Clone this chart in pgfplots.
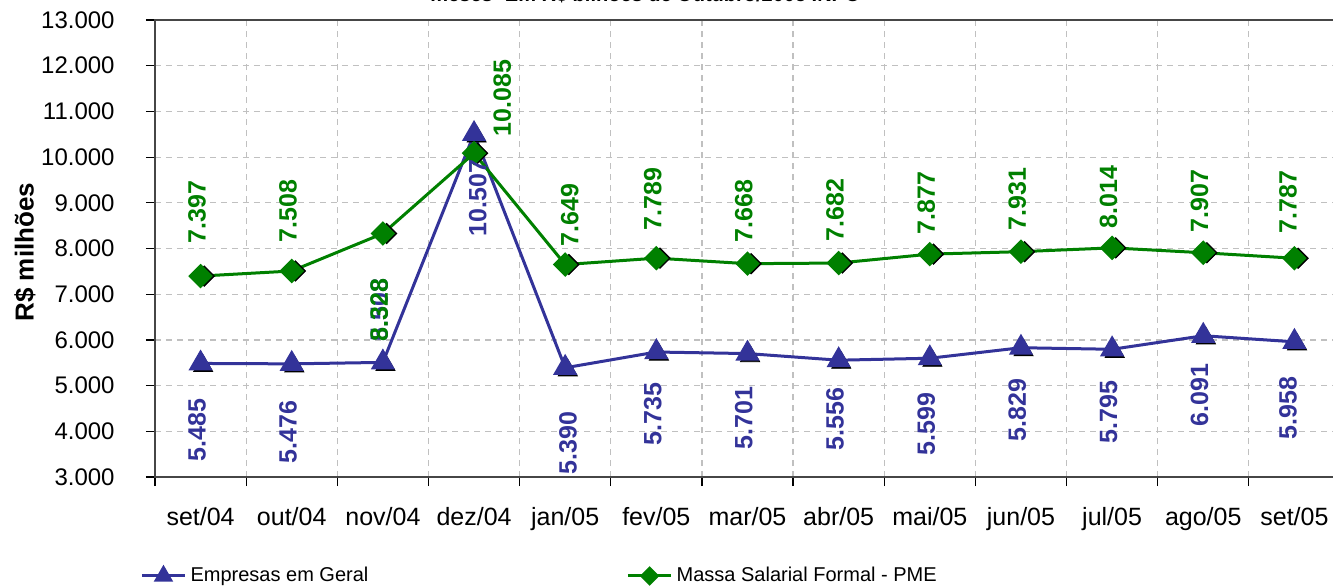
\documentclass[border=0pt]{standalone}
\usepackage{pgfplots}
\pgfplotsset{compat=1.18}
\usepackage{fontspec}
\setmainfont{Liberation Sans}
\definecolor{eblue}{RGB}{51,51,153}
\definecolor{egreen}{RGB}{0,128,0}
\definecolor{gridgray}{RGB}{192,192,192}
\begin{document}
\begin{tikzpicture}
\begin{axis}[
  scale only axis,
  width=592.5pt, height=228.5pt,
  xmin=-0.5, xmax=12.5,
  ymin=3000, ymax=13000,
  ytick={3000,4000,5000,6000,7000,8000,9000,10000,11000,12000,13000},
  scaled y ticks=false,
  /pgf/number format/assume math mode=true,
  /pgf/number format/1000 sep={.},
  xtick={-0.5,0.5,1.5,2.5,3.5,4.5,5.5,6.5,7.5,8.5,9.5,10.5,11.5,12.5},
  xticklabels={},
  extra x ticks={0,1,2,3,4,5,6,7,8,9,10,11,12},
  extra x tick labels={set/04,out/04,nov/04,dez/04,jan/05,fev/05,mar/05,abr/05,mai/05,jun/05,jul/05,ago/05,set/05},
  extra x tick style={major tick length=0pt, grid=none,
    xticklabel style={anchor=base, inner sep=0pt, yshift=-24pt, font=\fontsize{12.5}{15}\selectfont}},
  xmajorgrids=true, ymajorgrids=true,
  grid style={gridgray, dash pattern=on 3pt off 2.5pt, line width=0.6pt},
  tick align=outside,
  tick pos=left,
  major tick length=4.5pt,
  tick style={black, line width=0.6pt},
  axis line style={draw=gray!55!black, line width=1.1pt},
  yticklabel style={anchor=east, inner sep=0pt, xshift=-15.5pt, font=\fontsize{12}{14}\selectfont},
  every axis y label/.style={at={(axis description cs:-0.1097,0.492)}, rotate=90, anchor=center,
    font=\bfseries\fontsize{13}{15}\selectfont},
  ylabel={R\$ milhões},
  title={meses- Em R\$ bilhões de Outubro/2005 INPC},
  title style={at={(0.4135,1)}, anchor=base, yshift=3.5pt, font=\bfseries\fontsize{10}{12}\selectfont},
  legend columns=2,
  legend style={at={(-0.0127,-0.2166)}, anchor=west, draw=none, fill=none, inner sep=0pt,
    font=\fontsize{10}{12}\selectfont,
    /tikz/every even column/.append style={column sep=127pt}},
  legend image code/.code={\draw[mark repeat=2,mark phase=2] plot coordinates {(0cm,0cm) (0.38cm,0cm) (0.76cm,0cm)};},
  legend image post style={every mark/.append style={scale=0.75}},
]
% shadows of the markers
\addplot[forget plot, only marks, black, mark=triangle*, mark size=5.5pt,
  mark options={xshift=1.3pt, yshift=-1.3pt}] coordinates {
  (0,5485) (1,5476) (2,5508) (3,10507) (4,5390) (5,5735) (6,5701)
  (7,5556) (8,5599) (9,5829) (10,5795) (11,6091) (12,5958)};
\addplot[forget plot, only marks, black, mark=square*, mark size=3.6pt,
  mark options={rotate=45, xshift=1.3pt, yshift=-1.3pt}] coordinates {
  (0,7397) (1,7508) (2,8328) (3,10085) (4,7649) (5,7789) (6,7668)
  (7,7682) (8,7877) (9,7931) (10,8014) (11,7907) (12,7787)};
% series
\addplot[eblue, line width=1.5pt, mark=triangle*, mark size=5.5pt,
  mark options={solid, fill=eblue, draw=eblue}] coordinates {
  (0,5485) (1,5476) (2,5508) (3,10507) (4,5390) (5,5735) (6,5701)
  (7,5556) (8,5599) (9,5829) (10,5795) (11,6091) (12,5958)};
\addlegendentry{Empresas em Geral}
\addplot[egreen, line width=1.5pt, mark=square*, mark size=3.6pt,
  mark options={solid, rotate=45, fill=egreen, draw=egreen}] coordinates {
  (0,7397) (1,7508) (2,8328) (3,10085) (4,7649) (5,7789) (6,7668)
  (7,7682) (8,7877) (9,7931) (10,8014) (11,7907) (12,7787)};
\addlegendentry{Massa Salarial Formal - PME}
% data labels
\addplot[forget plot, draw=none, mark=none, nodes near coords, point meta=explicit symbolic,
  every node near coord/.append style={rotate=90, anchor=center, inner sep=0pt, text=eblue,
    font=\bfseries\fontsize{12.5}{15}\selectfont}] coordinates {
  (-0.04,4028)[5.485] (0.96,3985)[5.476] (1.96,6654)[5.508] (3.04,9105)[10.507]
  (4.03,3744)[5.390] (4.96,4378)[5.735] (5.96,4291)[5.701] (6.96,4269)[5.556]
  (7.96,4160)[5.599] (8.96,4466)[5.829] (9.96,4422)[5.795] (10.96,4794)[6.091]
  (11.93,4510)[5.958]};
\addplot[forget plot, draw=none, mark=none, nodes near coords, point meta=explicit symbolic,
  every node near coord/.append style={rotate=90, anchor=center, inner sep=0pt, text=egreen,
    font=\bfseries\fontsize{12.5}{15}\selectfont}] coordinates {
  (-0.04,8798)[7.397] (0.96,8820)[7.508] (1.96,6654)[8.328] (3.31,11293)[10.085]
  (4.05,8733)[7.649] (4.96,9083)[7.789] (5.96,8820)[7.668] (6.96,8842)[7.682]
  (7.96,8995)[7.877] (8.96,9083)[7.931] (9.96,9126)[8.014] (10.96,9039)[7.907]
  (11.93,9017)[7.787]};
\end{axis}
\pgfresetboundingbox
\path[use as bounding box] ([xshift=-77.5pt,yshift=-54.5pt]current axis.south west)
  rectangle ([xshift=589pt,yshift=238.5pt]current axis.south west);
\end{tikzpicture}
\end{document}
